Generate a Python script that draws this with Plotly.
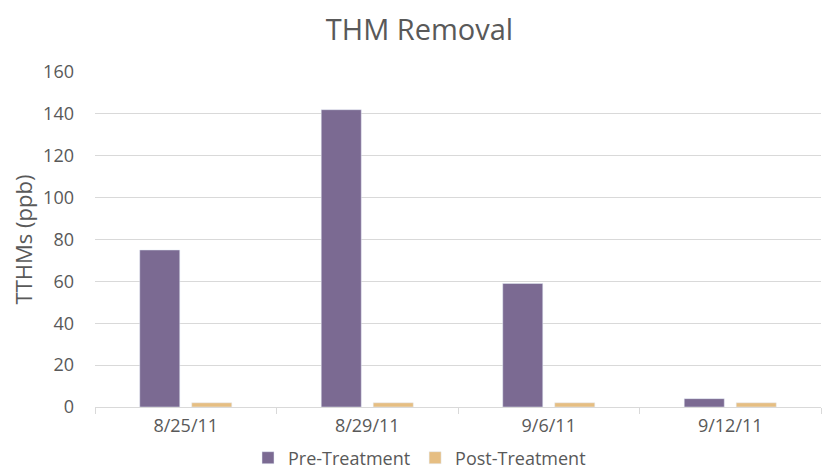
import plotly.graph_objects as go

dates = ["8/25/11", "8/29/11", "9/6/11", "9/12/11"]
pre_treatment = [75, 142, 59, 4]
post_treatment = [2, 2, 2, 2]
y_ticks = [0, 20, 40, 60, 80, 100, 120, 140, 160]

font_family = "Open Sans, Lato, sans-serif"
text_color = "#595959"

W, H = 823, 464  # page body has an 8px margin

fig = go.Figure()
fig.add_trace(go.Bar(name="Pre-Treatment", x=dates, y=pre_treatment,
                     marker=dict(color="#7B6A92")))
fig.add_trace(go.Bar(name="Post-Treatment", x=dates, y=post_treatment,
                     marker=dict(color="#E6BE82")))

fig.update_layout(
    width=W, height=H,
    margin=dict(l=87, r=10, t=64, b=65, autoexpand=False),
    paper_bgcolor="white", plot_bgcolor="white",
    barmode="group", bargap=0.427, bargroupgap=0.23,
    title=dict(text="THM Removal", x=0.5, xanchor="center", xref="container",
               y=1 - 22 / H, yref="container", yanchor="middle",
               font=dict(family=font_family, size=29, color=text_color)),
    font=dict(family=font_family, color=text_color),
    legend=dict(orientation="h", x=0.5, xanchor="center", xref="container",
                y=14 / H, yref="container", yanchor="middle",
                font=dict(size=18, color=text_color), itemwidth=30,
                traceorder="normal"),
    showlegend=True,
)
fig.update_xaxes(type="category", showgrid=False, showline=True, linecolor="#D9D9D9",
                 linewidth=1, ticks="outside", tickson="boundaries", ticklen=6,
                 tickcolor="#D9D9D9", tickfont=dict(size=18, color=text_color),
                 ticklabelstandoff=2, automargin=False)
fig.update_yaxes(range=[0, 160], tickvals=y_ticks, showgrid=True, gridcolor="#D9D9D9",
                 gridwidth=1, zeroline=False, showline=False,
                 tickfont=dict(size=18, color=text_color), ticklabelstandoff=20,
                 automargin=False,
                 title=dict(text="TTHMs (ppb)", font=dict(size=22, color=text_color), standoff=10))

fig.write_html("out.html")
